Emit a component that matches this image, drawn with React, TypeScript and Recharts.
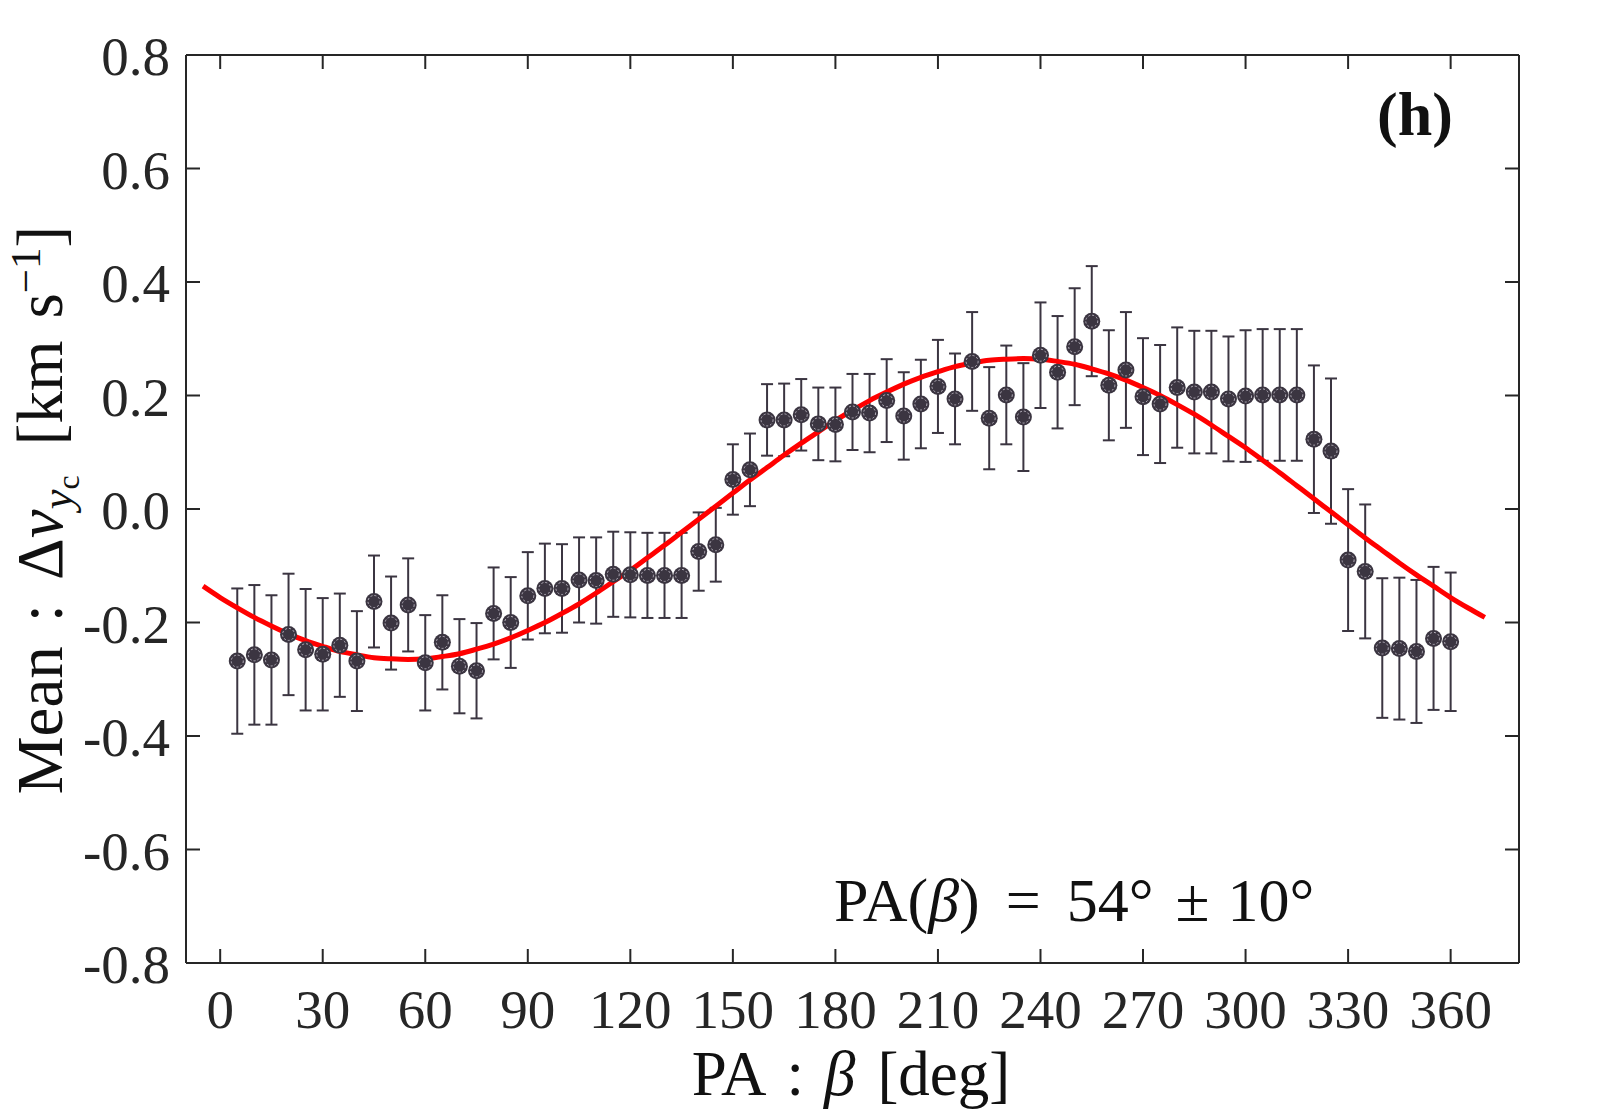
import React from "react";
import {
  ComposedChart,
  Scatter,
  Line,
  XAxis,
  YAxis,
  ErrorBar,
  ReferenceLine,
  Customized,
} from "recharts";

// position angle of each bin [deg]
const paDeg = [
  5, 10, 15, 20, 25, 30, 35, 40, 45, 50, 55, 60, 65, 70, 75, 80, 85, 90,
  95, 100, 105, 110, 115, 120, 125, 130, 135, 140, 145, 150, 155, 160, 165, 170, 175, 180,
  185, 190, 195, 200, 205, 210, 215, 220, 225, 230, 235, 240, 245, 250, 255, 260, 265, 270,
  275, 280, 285, 290, 295, 300, 305, 310, 315, 320, 325, 330, 335, 340, 345, 350, 355, 360,
];

// mean velocity difference [km/s]
const meanDv = [
  -0.268, -0.257, -0.266, -0.221, -0.248, -0.256, -0.24, -0.268, -0.163, -0.201, -0.169, -0.271,
  -0.235, -0.277, -0.285, -0.184, -0.2, -0.153, -0.14, -0.14, -0.125, -0.126, -0.115, -0.116,
  -0.117, -0.117, -0.117, -0.075, -0.063, 0.052, 0.069, 0.157, 0.157, 0.166, 0.15, 0.149,
  0.171, 0.169, 0.191, 0.164, 0.185, 0.216, 0.194, 0.26, 0.16, 0.201, 0.162, 0.271,
  0.241, 0.286, 0.331, 0.218, 0.245, 0.198, 0.185, 0.214, 0.206, 0.206, 0.194, 0.199,
  0.201, 0.201, 0.201, 0.123, 0.102, -0.09, -0.11, -0.245, -0.246, -0.251, -0.228, -0.234,
];

// half length of the error bars
const errDv = [
  0.128, 0.123, 0.114, 0.107, 0.107, 0.099, 0.091, 0.088, 0.081, 0.082, 0.082, 0.084,
  0.083, 0.083, 0.084, 0.081, 0.08, 0.077, 0.079, 0.078, 0.075, 0.076, 0.075, 0.075,
  0.075, 0.075, 0.075, 0.069, 0.065, 0.062, 0.064, 0.063, 0.064, 0.063, 0.064, 0.065,
  0.067, 0.069, 0.073, 0.077, 0.078, 0.082, 0.08, 0.087, 0.09, 0.087, 0.095, 0.093,
  0.099, 0.103, 0.097, 0.097, 0.102, 0.103, 0.104, 0.106, 0.108, 0.108, 0.11, 0.116,
  0.116, 0.116, 0.116, 0.13, 0.128, 0.125, 0.118, 0.123, 0.125, 0.126, 0.126, 0.122,
];

// red fitted curve
const fitPa = [
  -5, 0, 5, 10, 15, 20, 25, 30, 35, 40, 45, 50, 55, 60, 65, 70, 75, 80, 85,
  90, 95, 100, 105, 110, 115, 120, 125, 130, 135, 140, 145, 150, 155, 160, 165, 170, 175,
  180, 185, 190, 195, 200, 205, 210, 215, 220, 225, 230, 235, 240, 245, 250, 255, 260, 265,
  270, 275, 280, 285, 290, 295, 300, 305, 310, 315, 320, 325, 330, 335, 340, 345, 350, 355,
  360, 365, 370,
];
const fitDv = [
  -0.136, -0.156, -0.174, -0.191, -0.206, -0.22, -0.232, -0.242, -0.251, -0.257, -0.262, -0.264,
  -0.265, -0.264, -0.26, -0.255, -0.247, -0.238, -0.227, -0.214, -0.2, -0.184, -0.167, -0.148,
  -0.128, -0.108, -0.086, -0.064, -0.041, -0.018, 0.005, 0.028, 0.051, 0.073, 0.095, 0.116,
  0.136, 0.156, 0.174, 0.191, 0.206, 0.22, 0.232, 0.242, 0.251, 0.257, 0.262, 0.264,
  0.265, 0.264, 0.26, 0.255, 0.247, 0.238, 0.227, 0.214, 0.2, 0.184, 0.167, 0.148,
  0.128, 0.108, 0.086, 0.064, 0.041, 0.018, -0.005, -0.028, -0.051, -0.073, -0.095, -0.116,
  -0.136, -0.156, -0.174, -0.191,
];

const xTicks = [0, 30, 60, 90, 120, 150, 180, 210, 240, 270, 300, 330, 360];
const yTicks = [-0.8, -0.6, -0.4, -0.2, 0, 0.2, 0.4, 0.6, 0.8];
const X_DOMAIN = [-10, 380];
const Y_DOMAIN = [-0.8, 0.8];

const points = paDeg.map((pa, i) => ({ pa, mean: meanDv[i], err: errDv[i] }));
const fitLine = fitPa.map((pa, i) => ({ pa, fit: fitDv[i] }));

// plot box in page pixels
const BOX = { left: 186, top: 55, right: 1519, bottom: 963 };
const W = 1600;
const H = 1120;
const X_AXIS_H = 100;
const Y_AXIS_W = 120;
const TICK_LEN = 14;

const FONT = '"Liberation Serif", "Times New Roman", serif';
const AXIS_COLOR = "#262626";
const DOT_COLOR = "#3b3541";

const XTick = (props: any) => {
  const { x, payload } = props;
  return (
    <g>
      <line x1={x} x2={x} y1={BOX.bottom} y2={BOX.bottom - TICK_LEN} stroke={AXIS_COLOR} strokeWidth={2} />
      <line x1={x} x2={x} y1={BOX.top} y2={BOX.top + TICK_LEN} stroke={AXIS_COLOR} strokeWidth={2} />
      <text x={x} y={1028} textAnchor="middle" fontSize={55} fontFamily={FONT} fill={AXIS_COLOR}>
        {payload.value}
      </text>
    </g>
  );
};

const YTick = (props: any) => {
  const { y, payload } = props;
  return (
    <g>
      <line x1={BOX.left} x2={BOX.left + TICK_LEN} y1={y} y2={y} stroke={AXIS_COLOR} strokeWidth={2} />
      <line x1={BOX.right} x2={BOX.right - TICK_LEN} y1={y} y2={y} stroke={AXIS_COLOR} strokeWidth={2} />
      <text x={170} y={y + 20} textAnchor="end" fontSize={55} fontFamily={FONT} fill={AXIS_COLOR}>
        {Number(payload.value).toFixed(1)}
      </text>
    </g>
  );
};

const Marker = (props: any) => {
  const { cx, cy } = props;
  if (cx == null || cy == null) return null;
  return (
    <g>
      <circle cx={cx} cy={cy} r={8.5} fill={DOT_COLOR} />
      <circle cx={cx} cy={cy} r={6} fill="none" stroke="#b9b4bf" strokeWidth={1} strokeDasharray="2 2" />
    </g>
  );
};

const Texts = () => (
  <g fontFamily={FONT} fill="#111">
    <text x={1415} y={135} textAnchor="middle" fontSize={62} fontWeight="bold">
      (h)
    </text>
    <text x={834} y={921} fontSize={62}>
      <tspan>PA(</tspan>
      <tspan fontStyle="italic">β</tspan>
      <tspan>)</tspan>
      <tspan dx={26}>=</tspan>
      <tspan dx={26}>54°</tspan>
      <tspan dx={22}>±</tspan>
      <tspan dx={18}>10°</tspan>
    </text>
    <text x={851} y={1095} textAnchor="middle" fontSize={63}>
      <tspan>PA</tspan>
      <tspan dx={20}>:</tspan>
      <tspan dx={20} fontStyle="italic">β</tspan>
      <tspan dx={22}>[deg]</tspan>
    </text>
    <text transform="rotate(-90)" x={-510} y={62} textAnchor="middle" fontSize={65}>
      <tspan>Mean</tspan>
      <tspan dx={24}>:</tspan>
      <tspan dx={24}>Δ</tspan>
      <tspan fontStyle="italic">v</tspan>
      <tspan fontStyle="italic" fontSize={45} dy={10}>y</tspan>
      <tspan fontSize={32} dy={7}>c</tspan>
      <tspan dx={30} dy={-17}>[km</tspan>
      <tspan dx={22}>s</tspan>
      <tspan fontSize={43} dy={-22}>−1</tspan>
      <tspan dy={22}>]</tspan>
    </text>
  </g>
);

export default function App() {
  return (
    <div style={{ position: "absolute", left: 0, top: 0, width: W, height: H, background: "#fff" }}>
      <ComposedChart
        width={W}
        height={H}
        margin={{
          top: BOX.top,
          right: W - BOX.right,
          bottom: H - BOX.bottom - X_AXIS_H,
          left: BOX.left - Y_AXIS_W,
        }}
      >
        <XAxis
          type="number"
          dataKey="pa"
          domain={X_DOMAIN}
          ticks={xTicks}
          interval={0}
          allowDataOverflow
          height={X_AXIS_H}
          tickLine={false}
          axisLine={{ stroke: AXIS_COLOR, strokeWidth: 2 }}
          tick={(p: any) => <XTick {...p} />}
        />
        <YAxis
          type="number"
          dataKey="mean"
          domain={Y_DOMAIN}
          ticks={yTicks}
          interval={0}
          allowDataOverflow
          width={Y_AXIS_W}
          tickLine={false}
          axisLine={{ stroke: AXIS_COLOR, strokeWidth: 2 }}
          tick={(p: any) => <YTick {...p} />}
        />
        <ReferenceLine y={Y_DOMAIN[1]} stroke={AXIS_COLOR} strokeWidth={2} />
        <ReferenceLine x={X_DOMAIN[1]} stroke={AXIS_COLOR} strokeWidth={2} />
        <Scatter data={points} dataKey="mean" shape={<Marker />} isAnimationActive={false}>
          <ErrorBar dataKey="err" direction="y" width={6} stroke={DOT_COLOR} strokeWidth={2} />
        </Scatter>
        <Line
          data={fitLine}
          dataKey="fit"
          type="monotone"
          stroke="#ff0000"
          strokeWidth={5}
          dot={false}
          activeDot={false}
          isAnimationActive={false}
        />
        <Customized component={<Texts />} />
      </ComposedChart>
    </div>
  );
}
